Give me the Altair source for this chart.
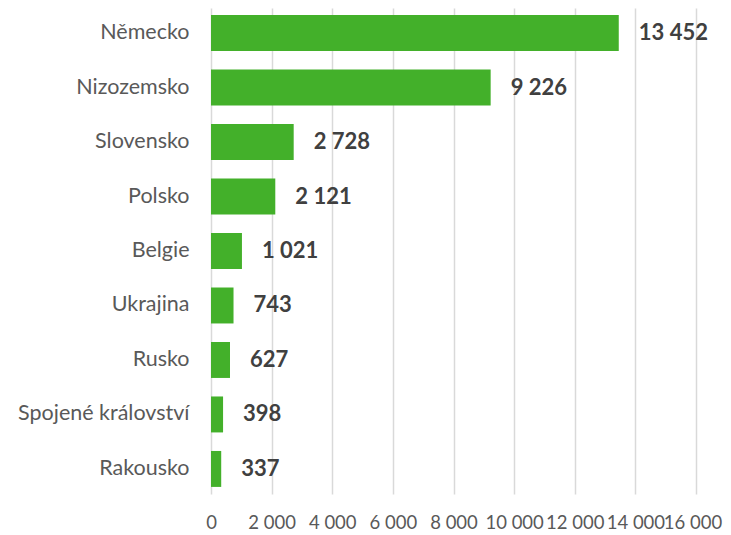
import altair as alt
import pandas as pd

countries = ["Německo", "Nizozemsko\u00a0", "Slovensko", "Polsko", "Belgie",
             "Ukrajina", "Rusko", "Spojené království", "Rakousko\u00a0"]
values = [13452, 9226, 2728, 2121, 1021, 743, 627, 398, 337]
x_ticks = [0, 2000, 4000, 6000, 8000, 10000, 12000, 14000, 16000]

df = pd.DataFrame({
    "country": countries,
    "value": values,
    "label": [f"{v:,}".replace(",", " ") for v in values],
})

FONT = "Lato"

base = alt.Chart(df).encode(
    y=alt.Y("country:N", sort=countries,
            scale=alt.Scale(paddingInner=0.34, paddingOuter=0.13),
            axis=alt.Axis(title=None, domain=False, ticks=False, labelFont=FONT,
                          labelFontSize=21.5, labelColor="#595959", labelPadding=22,
                          labelLimit=300)),
    x=alt.X("value:Q", scale=alt.Scale(domain=[0, 16000], nice=False),
            axis=alt.Axis(title=None, domain=False, ticks=False, values=x_ticks,
                          labelExpr="replace(format(datum.value, ','), ',', ' ')",
                          labelFont=FONT, labelFontSize=18.5, labelColor="#595959",
                          labelPadding=19, labelOverlap=False, labelFlush=False,
                          labelOffset={"condition": {"test": "datum.value == 16000",
                                                     "value": -3.5},
                                       "value": 0},
                          grid=True, gridColor="#d9d9d9", gridWidth=1.5)),
)

bars = base.mark_bar(color="#43B02A")
text = base.mark_text(align="left", baseline="middle", dx=20, font=FONT,
                      fontSize=22, fontWeight="bold", color="#404040").encode(
    text="label:N")

chart = (bars + text).properties(
    width=485, height=486,
    autosize=alt.AutoSizeParams(type="none"),
    padding={"left": 203, "top": 0, "right": 27, "bottom": 38},
).configure_view(stroke=None)

chart.save("out.html", embed_options={"renderer": "svg", "actions": False})
